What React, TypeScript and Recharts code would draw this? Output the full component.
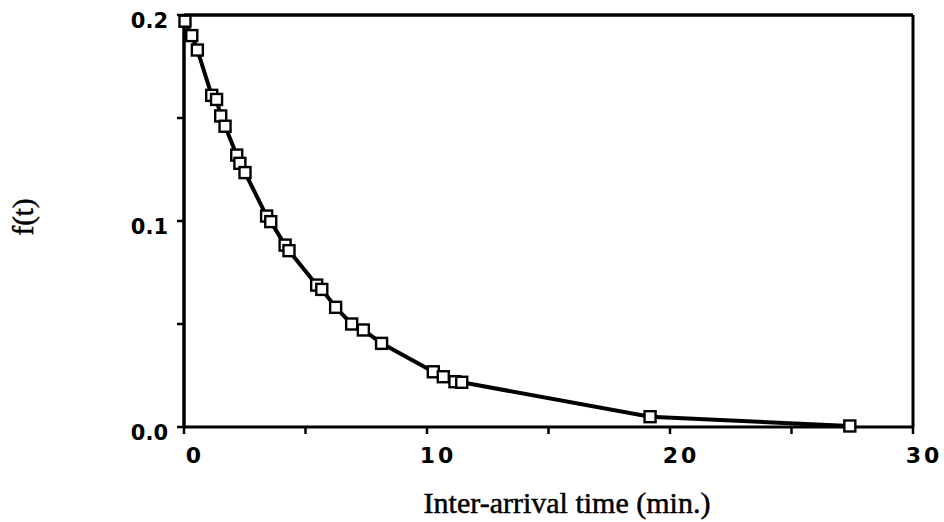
import { LineChart, Line, XAxis, YAxis, ReferenceLine } from "recharts";

/* ── data ─────────────────────────────────────────────────────────── */

const times = [
  0.04, 0.32, 0.55, 1.14, 1.34, 1.51, 1.69, 2.17, 2.3, 2.51, 3.4, 3.57, 4.16,
  4.32, 5.46, 5.67, 6.24, 6.9, 7.38, 8.13, 10.26, 10.67, 11.15, 11.43, 19.18,
  27.4,
];
const density = [
  0.197, 0.19, 0.183, 0.161, 0.159, 0.151, 0.146, 0.132, 0.128, 0.1235,
  0.1024, 0.0997, 0.0883, 0.0856, 0.0689, 0.0668, 0.0581, 0.05, 0.0471,
  0.0406, 0.0268, 0.0244, 0.022, 0.0217, 0.005, 0.0005,
];
const xTicks = [0, 5, 10, 15, 20, 25, 30];
const xLabels = ["0", "", "10", "", "20", "", "30"];
const yTicks = [0, 0.05, 0.1, 0.15, 0.2];
const yLabels = ["0.0", "", "0.1", "", "0.2"];

const data = times.map((t, i) => ({ t, f: density[i] }));

const tickFont = {
  fontFamily: "'DejaVu Sans', sans-serif",
  fontWeight: 700,
  fill: "#000",
};

const serifText = {
  fontFamily: "'Liberation Serif', serif",
  fill: "#000",
  stroke: "#000",
  strokeWidth: 0.5,
};

function XTick(props: any) {
  const i = xTicks.indexOf(props.payload.value);
  const label = xLabels[i];
  if (!label) return null;
  return (
    <text x={props.x + 11} y={props.y + 27} textAnchor="middle" letterSpacing={3} fontSize={22} {...tickFont}>
      {label}
    </text>
  );
}

function YTick(props: any) {
  const i = yTicks.indexOf(props.payload.value);
  const label = yLabels[i];
  if (!label) return null;
  return (
    <text x={props.x} y={props.y + 13} textAnchor="end" fontSize={21} {...tickFont}>
      {label}
    </text>
  );
}

function SquareDot(props: any) {
  const { cx, cy } = props;
  if (cx == null || cy == null) return null;
  return <rect x={cx - 5.5} y={cy - 5.5} width={11} height={11} fill="#fff" stroke="#000" strokeWidth={2.4} />;
}

export default function App() {
  return (
    <div style={{ position: "absolute", left: 0, top: 0, background: "#fff" }}>
      <LineChart width={944} height={522} data={data} margin={{ top: 15, right: 31, bottom: 0, left: 0 }}>
        <XAxis
          dataKey="t"
          type="number"
          domain={[0, 30]}
          ticks={xTicks}
          height={95}
          tickSize={7}
          axisLine={{ stroke: "#000", strokeWidth: 3 }}
          tickLine={{ stroke: "#000", strokeWidth: 2.5 }}
          tick={<XTick />}
          label={{
            content: () => (
              <text x={567} y={513} textAnchor="middle" fontSize={30} {...serifText}>
                Inter-arrival time (min.)
              </text>
            ),
          }}
        />
        <YAxis
          type="number"
          domain={[0, 0.2]}
          ticks={yTicks}
          width={184}
          tickSize={7}
          tickMargin={9}
          axisLine={{ stroke: "#000", strokeWidth: 3.5 }}
          tickLine={{ stroke: "#000", strokeWidth: 2.5 }}
          tick={<YTick />}
          label={{
            content: () => (
              <text
                x={33}
                y={217}
                transform="rotate(-90, 33, 217)"
                textAnchor="middle"
                fontSize={29}
                {...serifText}
              >
                f(t)
              </text>
            ),
          }}
        />
        <ReferenceLine y={0.2} stroke="#000" strokeWidth={3.5} />
        <ReferenceLine x={30} stroke="#000" strokeWidth={3} />
        <Line
          dataKey="f"
          type="linear"
          stroke="#000"
          strokeWidth={4}
          dot={<SquareDot />}
          activeDot={false}
          isAnimationActive={false}
        />
      </LineChart>
    </div>
  );
}
